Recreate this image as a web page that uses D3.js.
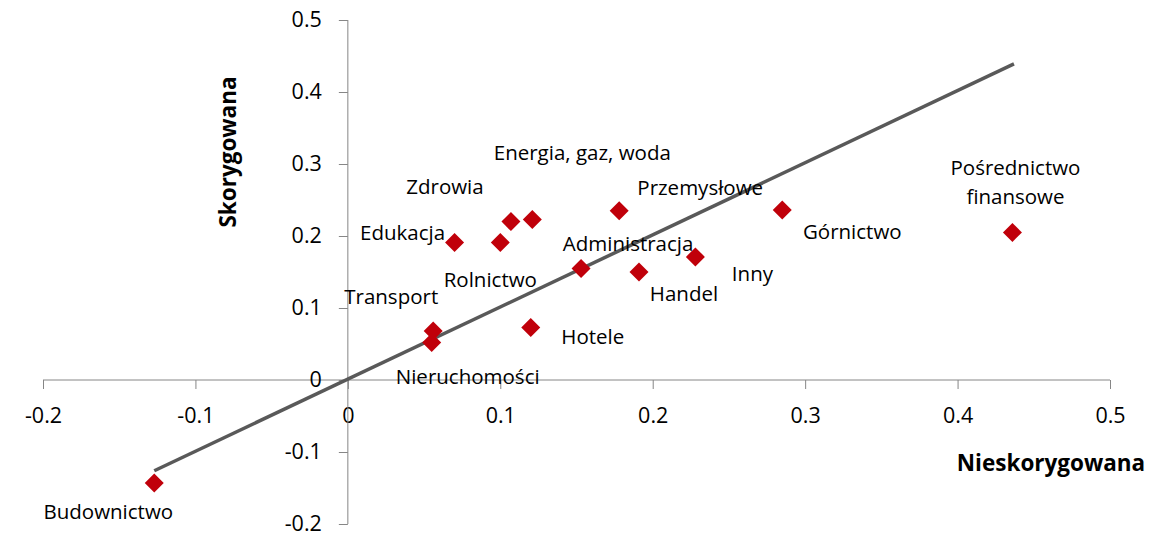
<!DOCTYPE html>
<html lang="pl">
<head>
<meta charset="utf-8">
<style>
  body { margin: 0; background: #fff; }
  text { font-family: "Open Sans", Lato, sans-serif; fill: #000; }
</style>
</head>
<body>
<script src="https://d3js.org/d3.v7.min.js"></script>
<svg width="1165" height="538"></svg>
<script>
    // data
    var sectors = ["Budownictwo", "Transport", "Nieruchomości", "Edukacja", "Rolnictwo",
        "Zdrowia", "Energia, gaz, woda", "Hotele", "Administracja", "Przemysłowe",
        "Handel", "Inny", "Górnictwo", "Pośrednictwo finansowe"];
    var uncorrected = [-0.127, 0.056, 0.055, 0.070, 0.100, 0.107, 0.121, 0.120, 0.153, 0.178, 0.191, 0.228, 0.285, 0.436];
    var corrected = [-0.143, 0.068, 0.052, 0.191, 0.191, 0.220, 0.223, 0.073, 0.155, 0.235, 0.150, 0.171, 0.236, 0.205];
    var lineX = [-0.127, 0.437];
    var lineY = [-0.126, 0.439];
    var xTicks = [-0.2, -0.1, 0, 0.1, 0.2, 0.3, 0.4, 0.5];
    var yTicks = [-0.2, -0.1, 0, 0.1, 0.2, 0.3, 0.4, 0.5];

    // label placement (pixel offsets from the marker)
    var labelOffset = {
        "Budownictwo": [-46, 29],
        "Transport": [-42, -34],
        "Nieruchomości": [36, 34],
        "Edukacja": [-52, -10],
        "Rolnictwo": [-10, 37],
        "Zdrowia": [-66, -35],
        "Energia, gaz, woda": [50, -67],
        "Hotele": [62, 9],
        "Administracja": [47, -25],
        "Przemysłowe": [81, -23],
        "Handel": [45, 22],
        "Inny": [57, 17],
        "Górnictwo": [70, 22],
        "Pośrednictwo finansowe": [3, -50]
    };

    var svg = d3.select("svg");
    var x = d3.scaleLinear().domain([-0.2, 0.5]).range([43, 1110]);
    var y = d3.scaleLinear().domain([-0.2, 0.5]).range([524, 20]);
    var fmt = function (d) { return d === 0 ? "0" : d3.format(".1f")(d).replace("\u2212", "-"); };

    var axisColor = "#868686";

    // x axis through y = 0
    var gx = svg.append("g")
        .attr("transform", "translate(0," + y(0) + ")")
        .call(d3.axisBottom(x).tickValues(xTicks).tickFormat(fmt).tickSize(9).tickPadding(19));
    gx.select(".domain").attr("stroke", axisColor).attr("d", "M" + x(-0.2) + ",0H" + x(0.5));
    gx.selectAll(".tick line").attr("stroke", axisColor);
    gx.selectAll(".tick text").style("font-size", "21.5px").attr("fill", "#000");

    // y axis through x = 0
    var gy = svg.append("g")
        .attr("transform", "translate(" + x(0) + ",0)")
        .call(d3.axisLeft(y).tickValues(yTicks).tickFormat(fmt).tickSize(9).tickPadding(17));
    gy.select(".domain").attr("stroke", axisColor).attr("d", "M0," + y(0.5) + "V" + y(-0.2));
    gy.selectAll(".tick line").attr("stroke", axisColor);
    gy.selectAll(".tick text").style("font-size", "21.5px").attr("fill", "#000");

    // trend line
    svg.append("line")
        .attr("x1", x(lineX[0])).attr("y1", y(lineY[0]))
        .attr("x2", x(lineX[1])).attr("y2", y(lineY[1]))
        .attr("stroke", "#595959")
        .attr("stroke-width", 3.5);

    var pts = sectors.map(function (s, i) {
        return { name: s, x: uncorrected[i], y: corrected[i] };
    });

    // diamonds
    svg.selectAll(".pt")
        .data(pts)
        .enter().append("path")
        .attr("class", "pt")
        .attr("d", "M0,-9.5L9.5,0L0,9.5L-9.5,0Z")
        .attr("transform", function (d) { return "translate(" + x(d.x) + "," + y(d.y) + ")"; })
        .attr("fill", "#c0000a");

    // labels
    var lab = svg.selectAll(".lab")
        .data(pts)
        .enter().append("text")
        .attr("class", "lab")
        .attr("text-anchor", "middle")
        .style("font-size", "20.5px")
        .attr("transform", function (d) {
            var o = labelOffset[d.name];
            return "translate(" + (x(d.x) + o[0]) + "," + (y(d.y) + o[1]) + ")";
        });
    lab.each(function (d) {
        var t = d3.select(this);
        var words = d.name === "Pośrednictwo finansowe" ? ["Pośrednictwo", "finansowe"] : [d.name];
        var start = -(words.length - 1) * 29 / 2;
        words.forEach(function (w, k) {
            t.append("tspan")
                .attr("x", 0)
                .attr("y", start + k * 29)
                .attr("dy", "0.35em")
                .text(w);
        });
    });

    // axis titles
    svg.append("text")
        .attr("x", 1051)
        .attr("y", 463)
        .attr("dy", "0.35em")
        .attr("text-anchor", "middle")
        .style("font-size", "22.5px")
        .style("font-weight", "bold")
        .text("Nieskorygowana");

    svg.append("text")
        .attr("transform", "translate(228,152) rotate(-90)")
        .attr("dy", "0.35em")
        .attr("text-anchor", "middle")
        .style("font-size", "22.5px")
        .style("font-weight", "bold")
        .text("Skorygowana");
</script>
</body>
</html>
